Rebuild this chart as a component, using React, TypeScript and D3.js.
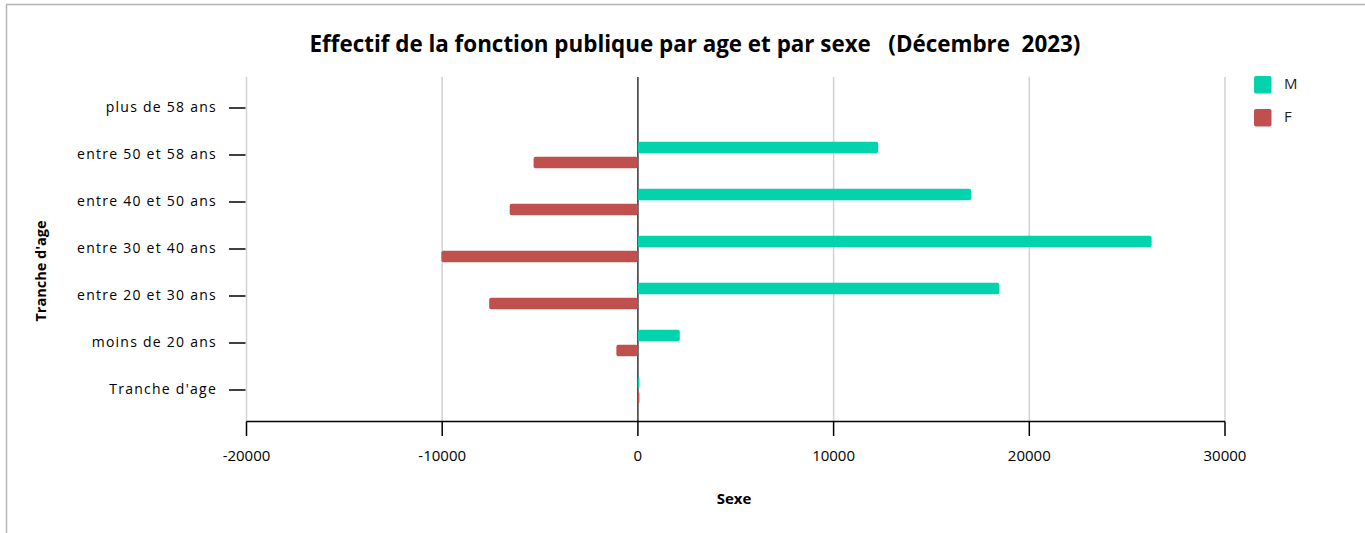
import React from "react";
import * as d3 from "d3";

// data
const categories = [
  "Tranche d'age",
  "moins de 20 ans",
  "entre 20 et 30 ans",
  "entre 30 et 40 ans",
  "entre 40 et 50 ans",
  "entre 50 et 58 ans",
  "plus de 58 ans",
];
const maleValues = [70, 2140, 18470, 26250, 17030, 12280, 0];
const femaleValues = [70, -1100, -7600, -10040, -6550, -5330, 0];
const seriesNames = ["M", "F"];
const seriesColors = ["#03D3AC", "#C0504D"];
const xTicks = [-20000, -10000, 0, 10000, 20000, 30000];

const W = 1365;
const H = 533;
const plotTop = 77;
const plotBottom = 421.5;
const font = "'Open Sans', 'Noto Sans', sans-serif";

const App = () => {
  const x = d3.scaleLinear().domain([-20000, 30000]).range([246.5, 1225]);
  const y = d3.scaleBand().domain(categories).range([413.5, 84.5]).padding(0);
  const bw = y.bandwidth();
  const inner = d3
    .scaleBand()
    .domain(seriesNames)
    .range([bw / 2 - 13.3, bw / 2 + 13.3])
    .paddingInner(0.24);

  const series = [maleValues, femaleValues];

  return (
    <svg
      width={W}
      height={H}
      style={{ position: "absolute", left: 0, top: 0 }}
      fontFamily={font}
    >
      <rect width={W} height={H} fill="#fff" />
      {/* frame */}
      <line x1={6} y1={4.5} x2={W} y2={4.5} stroke="#b4b4b4" strokeWidth={1.5} />
      <line x1={6.5} y1={4} x2={6.5} y2={H} stroke="#b4b4b4" strokeWidth={1.5} />

      <text
        x={695}
        y={52}
        textAnchor="middle"
        fontSize={22.4}
        fontWeight="bold"
        fill="#000"
        style={{ whiteSpace: "pre" }}
      >
        {"Effectif de la fonction publique par age et par sexe   (Décembre  2023)"}
      </text>

      {/* grid */}
      {xTicks.map((t) => (
        <line
          key={"g" + t}
          x1={x(t)}
          x2={x(t)}
          y1={plotTop}
          y2={plotBottom}
          stroke={t === 0 ? "#333" : "#d2d2d2"}
          strokeWidth={1.5}
        />
      ))}

      {/* bars */}
      {series.map((vals, si) =>
        categories.map((c, i) => {
          const v = vals[i];
          if (!v) return null;
          const x0 = x(Math.min(0, v));
          const x1 = x(Math.max(0, v));
          return (
            <rect
              key={seriesNames[si] + c}
              x={x0}
              y={(y(c) as number) + (inner(seriesNames[si]) as number)}
              width={Math.max(1.5, x1 - x0)}
              height={inner.bandwidth()}
              rx={2}
              fill={seriesColors[si]}
            />
          );
        })
      )}

      {/* x axis */}
      <line x1={x(-20000)} x2={x(30000)} y1={plotBottom} y2={plotBottom} stroke="#000" strokeWidth={1.5} />
      {xTicks.map((t) => (
        <g key={"t" + t}>
          <line x1={x(t)} x2={x(t)} y1={plotBottom} y2={436} stroke="#000" strokeWidth={1.5} />
          <text x={x(t)} y={457} textAnchor="middle" dominantBaseline="middle" fontSize={15} fill="#000">
            {t}
          </text>
        </g>
      ))}

      {/* y axis ticks and labels */}
      {categories.map((c) => {
        const cy = (y(c) as number) + bw / 2;
        return (
          <g key={"y" + c}>
            <line x1={229} x2={245.5} y1={cy} y2={cy} stroke="#000" strokeWidth={1.5} />
            <text
              x={217}
              y={cy}
              textAnchor="end"
              dominantBaseline="middle"
              fontSize={14}
              letterSpacing={1.25}
              fill="#000"
            >
              {c}
            </text>
          </g>
        );
      })}

      <text
        transform="translate(42,271) rotate(-90)"
        textAnchor="middle"
        dominantBaseline="middle"
        fontSize={14.5}
        fontWeight="bold"
      >
        Tranche d'age
      </text>
      <text x={734} y={500} textAnchor="middle" dominantBaseline="middle" fontSize={15} fontWeight="bold">
        Sexe
      </text>

      {/* legend */}
      {seriesNames.map((s, i) => (
        <g key={"l" + s} transform={`translate(1254,${76 + i * 33})`}>
          <rect width={17.5} height={17.5} rx={2} fill={seriesColors[i]} />
          <text x={30} y={9} dominantBaseline="middle" fontSize={15} fill="#222">
            {s}
          </text>
        </g>
      ))}
    </svg>
  );
};

export default App;
